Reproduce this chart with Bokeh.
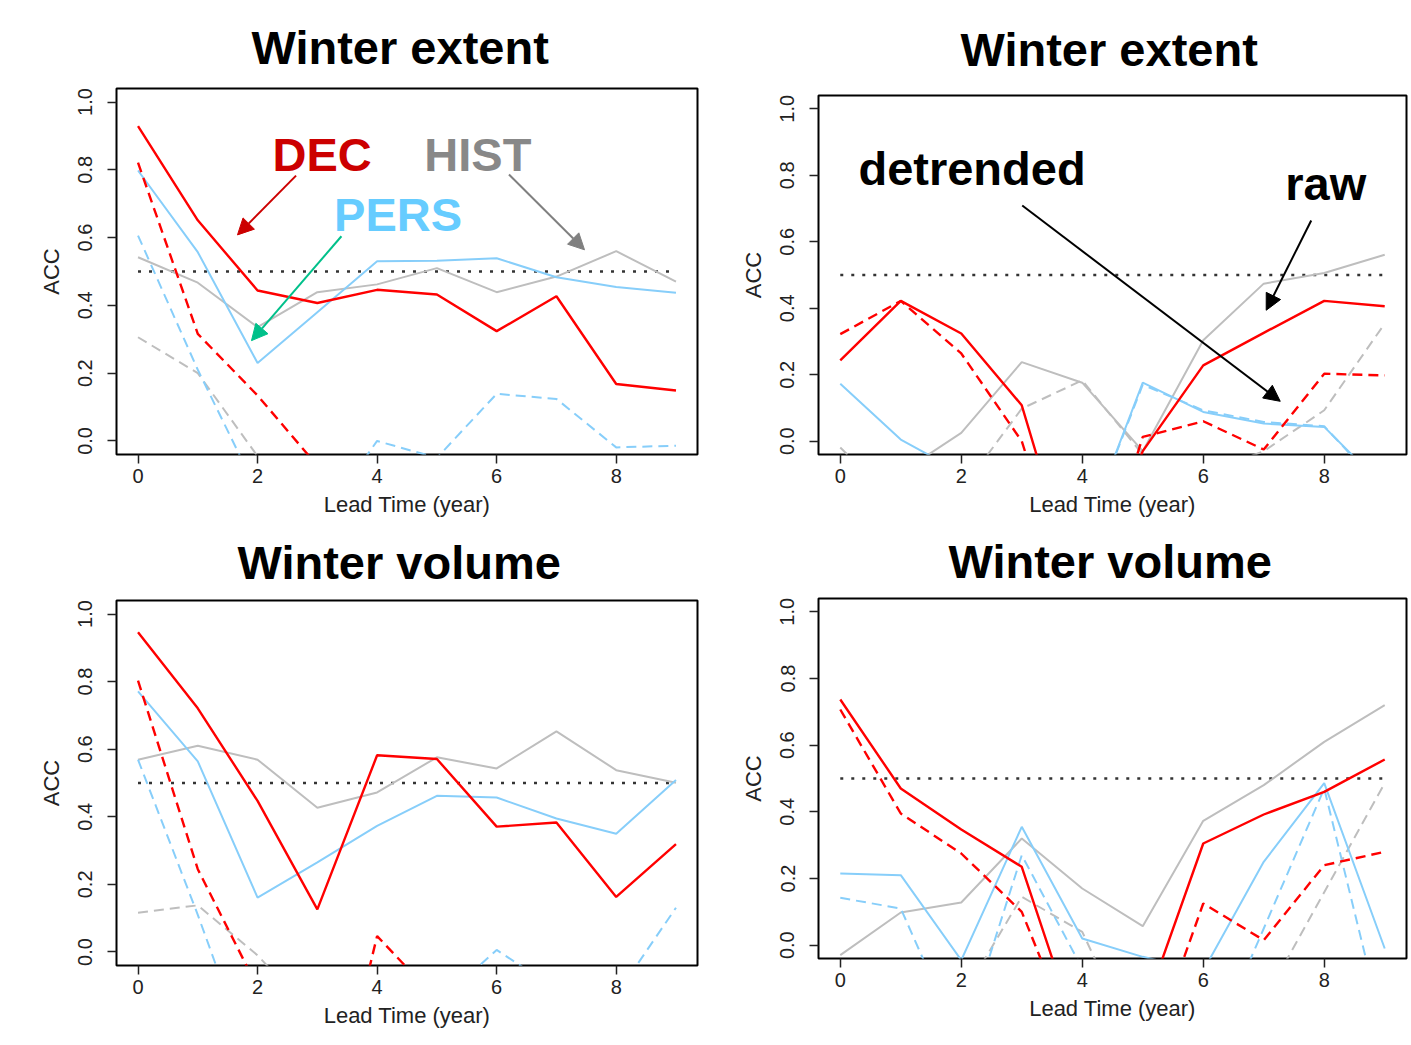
from bokeh.plotting import figure
from bokeh.layouts import column, row
from bokeh.models import Range1d, FixedTicker, Label, Arrow, NormalHead
from bokeh.embed import file_html
from bokeh.resources import INLINE

# ---------------- data ----------------
lead = [0, 1, 2, 3, 4, 5, 6, 7, 8, 9]
x_ticks = [0, 2, 4, 6, 8]
y_ticks = [0.0, 0.2, 0.4, 0.6, 0.8, 1.0]
y_tick_labels = ["0.0", "0.2", "0.4", "0.6", "0.8", "1.0"]
threshold = 0.5
titles = ["Winter extent", "Winter extent", "Winter volume", "Winter volume"]

# Winter extent (left)
ext_l_dec_raw = [0.929, 0.651, 0.444, 0.407, 0.446, 0.432, 0.324, 0.427, 0.168, 0.149]
ext_l_dec_det = [0.821, 0.316, 0.134, -0.073, -0.15, -0.2, -0.2, -0.2, -0.2, -0.2]
ext_l_pers_raw = [0.798, 0.557, 0.230, 0.380, 0.530, 0.532, 0.539, 0.483, 0.454, 0.437]
ext_l_pers_det = [0.606, 0.210, -0.15, -0.25, 0.0, -0.05, 0.139, 0.124, -0.019, -0.014]
ext_l_hist_raw = [0.542, 0.467, 0.336, 0.439, 0.462, 0.510, 0.439, 0.485, 0.560, 0.470]
ext_l_hist_det = [0.306, 0.200, -0.045, -0.2, -0.3, -0.3, -0.3, -0.3, -0.3, -0.3]

# Winter extent (right)
ext_r_dec_raw = [0.243, 0.422, 0.324, 0.108, -0.5, -0.03, 0.228, 0.326, 0.422, 0.406]
ext_r_dec_det = [0.322, 0.422, 0.264, 0.0, -0.57, 0.013, 0.060, -0.025, 0.203, 0.198]
ext_r_pers_raw = [0.173, 0.005, -0.095, -0.2, -0.30, 0.176, 0.088, 0.053, 0.043, -0.14]
ext_r_pers_det = [-0.3, -0.3, -0.3, -0.3, -0.3, 0.170, 0.093, 0.058, 0.045, -0.15]
ext_r_hist_raw = [-0.15, -0.095, 0.025, 0.238, 0.176, -0.03, 0.304, 0.474, 0.506, 0.561]
ext_r_hist_det = [-0.019, -0.2, -0.147, 0.098, 0.183, -0.04, -0.1, -0.03, 0.093, 0.354]

# Winter volume (left)
vol_l_dec_raw = [0.946, 0.721, 0.447, 0.126, 0.582, 0.571, 0.371, 0.383, 0.163, 0.319]
vol_l_dec_det = [0.803, 0.245, -0.105, -0.68, 0.047, -0.14, -0.3, -0.3, -0.3, -0.3]
vol_l_pers_raw = [0.771, 0.564, 0.161, 0.265, 0.373, 0.462, 0.457, 0.395, 0.350, 0.509]
vol_l_pers_det = [0.569, 0.110, -0.38, -0.4, -0.3, -0.153, 0.006, -0.11, -0.128, 0.131]
vol_l_hist_raw = [0.569, 0.610, 0.569, 0.427, 0.472, 0.576, 0.543, 0.653, 0.538, 0.501]
vol_l_hist_det = [0.116, 0.138, -0.01, -0.2, -0.3, -0.3, -0.3, -0.3, -0.3, -0.3]

# Winter volume (right)
vol_r_dec_raw = [0.737, 0.470, 0.347, 0.235, -0.31, -0.207, 0.305, 0.392, 0.460, 0.557]
vol_r_dec_det = [0.707, 0.395, 0.275, 0.100, -0.35, -0.385, 0.125, 0.015, 0.240, 0.280]
vol_r_pers_raw = [0.215, 0.210, -0.045, 0.355, 0.020, -0.035, -0.077, 0.250, 0.486, -0.01]
vol_r_pers_det = [0.142, 0.110, -0.3, 0.270, -0.07, -0.3, -0.37, 0.050, 0.470, -0.27]
vol_r_hist_raw = [-0.03, 0.098, 0.128, 0.320, 0.170, 0.057, 0.373, 0.480, 0.610, 0.720]
vol_r_hist_det = [-0.3, -0.3, -0.16, 0.145, 0.040, -0.35, -0.4, -0.168, 0.159, 0.486]

panels_data = [
    (ext_l_dec_raw, ext_l_dec_det, ext_l_pers_raw, ext_l_pers_det, ext_l_hist_raw, ext_l_hist_det),
    (ext_r_dec_raw, ext_r_dec_det, ext_r_pers_raw, ext_r_pers_det, ext_r_hist_raw, ext_r_hist_det),
    (vol_l_dec_raw, vol_l_dec_det, vol_l_pers_raw, vol_l_pers_det, vol_l_hist_raw, vol_l_hist_det),
    (vol_r_dec_raw, vol_r_dec_det, vol_r_pers_raw, vol_r_pers_det, vol_r_hist_raw, vol_r_hist_det),
]

# ---------------- style ----------------
RED = "#ff0000"
BLUE = "#87cefa"
GRAY = "#bebebe"
FONT = "Liberation Sans"

# (width, height, border left, right, top, bottom, title standoff, title left offset)
geoms = [
    (730, 520, 116, 33, 88, 66, 30, 135),
    (681, 520, 88, 5, 95, 66, 40, 142),
    (730, 525, 116, 33, 80, 80, 24, 121),
    (681, 525, 88, 5, 78, 87, 22, 130),
]


def make_panel(i):
    w, h, bl, br, bt, bb, st, off = geoms[i]
    p = figure(width=w, height=h, output_backend="svg", toolbar_location=None,
               x_range=Range1d(-0.36, 9.36), y_range=Range1d(-0.04, 1.04),
               min_border_left=bl, min_border_right=br,
               min_border_top=bt, min_border_bottom=bb,
               background_fill_color="white", border_fill_color="white")
    p.title.text = titles[i]
    p.title.text_font = FONT
    p.title.text_font_size = "47px"
    p.title.text_font_style = "bold"
    p.title.text_color = "black"
    p.title.align = "left"
    p.title.offset = off
    p.title.standoff = st
    p.grid.visible = False
    p.outline_line_color = "black"
    p.outline_line_width = 2
    p.outline_line_alpha = 1

    p.xaxis.ticker = FixedTicker(ticks=x_ticks)
    p.yaxis.ticker = FixedTicker(ticks=y_ticks)
    p.yaxis.major_label_overrides = {t: s for t, s in zip(y_ticks, y_tick_labels)}
    p.yaxis.major_label_orientation = "vertical"
    p.xaxis.axis_label = "Lead Time (year)"
    p.yaxis.axis_label = "ACC"
    for ax in (p.xaxis, p.yaxis):
        ax.axis_line_color = None
        ax.minor_tick_line_color = None
        ax.major_tick_out = 9
        ax.major_tick_in = 0
        ax.major_tick_line_width = 1.5
        ax.major_tick_line_color = "#222222"
        ax.major_label_text_font = FONT
        ax.major_label_text_font_size = "20px"
        ax.major_label_text_color = "#222222"
        ax.axis_label_text_font = FONT
        ax.axis_label_text_font_size = "22px"
        ax.axis_label_text_font_style = "normal"
        ax.axis_label_text_color = "#222222"
    p.xaxis.major_label_standoff = 5
    p.xaxis.axis_label_standoff = 6
    p.yaxis.major_label_standoff = 15
    p.yaxis.axis_label_standoff = 12

    dec_raw, dec_det, pers_raw, pers_det, hist_raw, hist_det = panels_data[i]
    p.line([lead[0], lead[-1]], [threshold, threshold], line_color="#333333",
           line_width=2.5, line_dash="3 8")
    p.line(lead, hist_det, line_color=GRAY, line_width=2, line_dash="10 6")
    p.line(lead, hist_raw, line_color=GRAY, line_width=2)
    p.line(lead, pers_det, line_color=BLUE, line_width=2, line_dash="10 6")
    p.line(lead, pers_raw, line_color=BLUE, line_width=2)
    p.line(lead, dec_det, line_color=RED, line_width=2.4, line_dash="10 6")
    p.line(lead, dec_raw, line_color=RED, line_width=2.4)
    return p


def add_label(p, x, y, text, color):
    p.add_layout(Label(x=x, y=y, text=text, text_color=color, text_font=FONT,
                       text_font_size="47px", text_font_style="bold",
                       text_align="left", text_baseline="alphabetic"))


def add_arrow(p, xs, ys, xe, ye, color):
    p.add_layout(Arrow(end=NormalHead(size=16, fill_color=color, line_color=color),
                       x_start=xs, y_start=ys, x_end=xe, y_end=ye,
                       line_color=color, line_width=2))


p1 = make_panel(0)
p2 = make_panel(1)
p3 = make_panel(2)
p4 = make_panel(3)

add_label(p1, 2.25, 0.845, "DEC", "#cc0000")
add_label(p1, 4.79, 0.845, "HIST", "#888888")
add_label(p1, 3.28, 0.668, "PERS", "#66ccff")
add_arrow(p1, 2.644, 0.783, 1.664, 0.608, "#cc0000")
add_arrow(p1, 3.403, 0.604, 1.898, 0.296, "#00c08a")
add_arrow(p1, 6.206, 0.786, 7.47, 0.564, "#808080")

add_label(p2, 0.30, 0.821, "detrended", "black")
add_label(p2, 7.355, 0.775, "raw", "black")
add_arrow(p2, 3.008, 0.709, 7.273, 0.120, "black")
add_arrow(p2, 7.785, 0.664, 7.041, 0.394, "black")

layout = column(row(column(p1), column(p2)), row(column(p3), column(p4)))
open("out.html", "w").write(file_html(layout, INLINE))
